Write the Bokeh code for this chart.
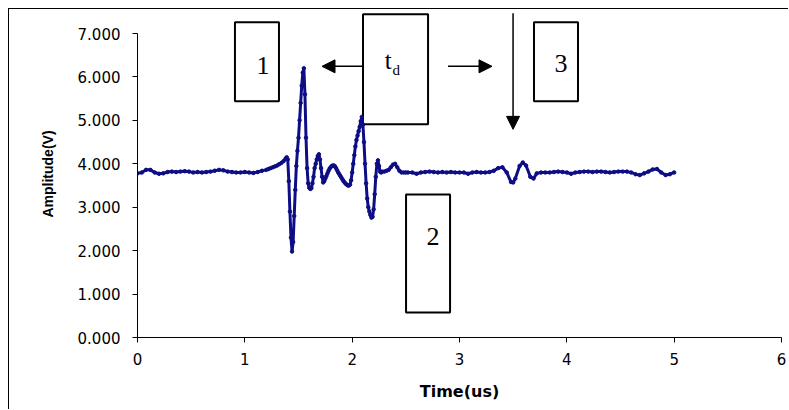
from bokeh.plotting import figure
from bokeh.models import Range1d, FixedTicker, NumeralTickFormatter, Arrow, NormalHead, ColumnDataSource
from bokeh.core.properties import value
from bokeh.embed import file_html
from bokeh.resources import INLINE

# ---- data ----
time_us = [
    0.00, 0.04, 0.08, 0.12, 0.16, 0.20, 0.24, 0.28, 0.32, 0.36, 0.40, 0.44, 0.48, 0.52, 0.56, 0.60,
    0.64, 0.68, 0.72, 0.76, 0.80, 0.84, 0.88, 0.92, 0.96, 1.00, 1.04, 1.08, 1.12, 1.16, 1.20,
    1.22, 1.24, 1.26, 1.28, 1.30, 1.32, 1.34, 1.36, 1.38, 1.39, 1.40, 1.41, 1.42, 1.43, 1.44, 1.45,
    1.46, 1.47, 1.48, 1.49, 1.50, 1.51, 1.52, 1.53, 1.54, 1.55, 1.56, 1.57, 1.58, 1.59, 1.60, 1.61,
    1.62, 1.63, 1.64, 1.65, 1.66, 1.67, 1.68, 1.69, 1.70, 1.71, 1.72, 1.73, 1.74, 1.75, 1.76, 1.77,
    1.78, 1.79, 1.80, 1.81, 1.82, 1.83, 1.84, 1.85, 1.86, 1.87, 1.88, 1.89, 1.90, 1.91, 1.92, 1.93,
    1.94, 1.95, 1.96, 1.97, 1.98, 1.99, 2.00, 2.01, 2.02, 2.03, 2.04, 2.05, 2.06, 2.07, 2.08, 2.09,
    2.10, 2.11, 2.12, 2.13, 2.14, 2.15, 2.16, 2.17, 2.18, 2.19, 2.20, 2.21, 2.22, 2.23, 2.24, 2.25,
    2.26, 2.27, 2.28, 2.30, 2.32, 2.34, 2.36, 2.38, 2.40, 2.42, 2.44, 2.46, 2.48, 2.50,
    2.52, 2.56, 2.60, 2.64, 2.68, 2.72, 2.76, 2.80, 2.84, 2.88, 2.92, 2.96, 3.00, 3.04, 3.08, 3.12,
    3.16, 3.20, 3.24, 3.28, 3.32, 3.36, 3.40, 3.44, 3.48, 3.50, 3.52, 3.56, 3.59, 3.62, 3.66, 3.69,
    3.72, 3.76, 3.80, 3.84, 3.88, 3.92, 3.96, 4.00, 4.04, 4.08, 4.12, 4.16, 4.20, 4.24, 4.28, 4.32,
    4.36, 4.40, 4.44, 4.48, 4.52, 4.56, 4.60, 4.64, 4.68, 4.72, 4.76, 4.80, 4.84, 4.88, 4.92, 4.96,
    5.00,
]
amplitude_v = [
    3.78, 3.80, 3.86, 3.86, 3.80, 3.77, 3.78, 3.81, 3.82, 3.81, 3.82, 3.83, 3.82, 3.80, 3.81, 3.80,
    3.81, 3.82, 3.84, 3.86, 3.85, 3.82, 3.81, 3.80, 3.80, 3.81, 3.80, 3.79, 3.81, 3.84, 3.86,
    3.88, 3.90, 3.92, 3.94, 3.96, 3.99, 4.02, 4.06, 4.12, 4.15, 4.10, 3.60, 2.90, 2.30, 1.98, 2.20,
    2.80, 3.40, 3.95, 4.30, 4.60, 5.00, 5.40, 5.80, 6.10, 6.20, 5.60, 4.60, 3.90, 3.55, 3.45, 3.42,
    3.44, 3.55, 3.70, 3.90, 4.00, 4.10, 4.18, 4.22, 4.10, 3.90, 3.70, 3.57, 3.60, 3.66, 3.72, 3.78,
    3.84, 3.89, 3.92, 3.95, 3.96, 3.96, 3.94, 3.90, 3.85, 3.80, 3.76, 3.72, 3.68, 3.64, 3.60, 3.57,
    3.54, 3.52, 3.50, 3.50, 3.52, 3.62, 3.80, 4.00, 4.20, 4.40, 4.55, 4.65, 4.75, 4.85, 4.98, 5.08,
    4.90, 4.50, 4.00, 3.55, 3.20, 3.00, 2.90, 2.82, 2.76, 2.78, 2.95, 3.30, 3.70, 4.00, 4.08, 3.95,
    3.82, 3.80, 3.82, 3.82, 3.84, 3.86, 3.92, 3.98, 4.00, 3.92, 3.84, 3.80, 3.80, 3.80,
    3.80, 3.80, 3.77, 3.80, 3.81, 3.82, 3.81, 3.80, 3.81, 3.80, 3.81, 3.80, 3.80, 3.80, 3.77, 3.80,
    3.81, 3.80, 3.80, 3.81, 3.84, 3.90, 3.92, 3.80, 3.58, 3.57, 3.66, 3.95, 4.03, 3.96, 3.70, 3.66,
    3.78, 3.80, 3.80, 3.80, 3.81, 3.82, 3.81, 3.80, 3.77, 3.80, 3.81, 3.82, 3.82, 3.81, 3.82, 3.82,
    3.81, 3.80, 3.81, 3.82, 3.82, 3.82, 3.80, 3.76, 3.74, 3.78, 3.82, 3.87, 3.88, 3.80, 3.74, 3.76,
    3.80,
]
x_ticks = [0, 1, 2, 3, 4, 5, 6]
y_ticks = [0, 1, 2, 3, 4, 5, 6, 7]
x_title = "Time(us)"
y_title = "Amplitude(V)"
box_labels = ["1", "2", "3"]

NAVY = "#0d0d85"

p = figure(width=780, height=401, output_backend="svg", toolbar_location=None,
           x_range=Range1d(0, 6), y_range=Range1d(0, 7.53),
           min_border_left=128, min_border_right=8, min_border_top=1, min_border_bottom=73,
           margin=(8, 0, 0, 8))
p.styles = {"border-top": "1px solid black", "border-left": "1px solid black"}
p.outline_line_color = None
p.grid.visible = False
p.background_fill_color = "white"
p.border_fill_color = "white"

# axes
p.xaxis.ticker = FixedTicker(ticks=x_ticks)
p.yaxis.ticker = FixedTicker(ticks=y_ticks)
p.yaxis.formatter = NumeralTickFormatter(format="0.000")
p.xaxis.bounds = (0, 6)
p.yaxis.bounds = (0, 7)
for ax in (p.xaxis[0], p.yaxis[0]):
    ax.major_tick_in = 0
    ax.major_tick_out = 5
    ax.minor_tick_line_color = None
    ax.axis_line_color = "black"
    ax.major_tick_line_color = "black"
    ax.major_label_text_font = "DejaVu Sans"
    ax.major_label_text_font_size = "15px"
    ax.major_label_text_color = "black"
    ax.axis_label_text_font_style = "bold"
    ax.axis_label_text_color = "black"
p.xaxis.major_label_standoff = 10
p.yaxis.major_label_standoff = 12
p.xaxis.axis_label = x_title
p.yaxis.axis_label = y_title
p.xaxis.axis_label_text_font = "DejaVu Sans"
p.xaxis.axis_label_text_font_size = "16px"
p.xaxis.axis_label_standoff = 14
p.yaxis[0].axis_label_text_font = "Liberation Sans"
p.yaxis[0].axis_label_text_font_size = "14px"
p.yaxis[0].axis_label_standoff = 19

# annotation boxes (data coordinates)
box_left = [0.908, 2.502, 3.694, 2.101]
box_right = [1.318, 2.912, 4.104, 2.707]
box_top = [7.258, 3.295, 7.258, 7.442]
box_bottom = [5.438, 0.576, 5.438, 4.908]
p.quad(left=box_left, right=box_right, top=box_top, bottom=box_bottom,
       fill_color=None, line_color="black", line_width=2)

p.text(x=[1.169, 2.753, 3.946], y=[6.267, 2.327, 6.313], text=box_labels,
       text_font=value("Liberation Serif"), text_font_size="26px",
       text_align="center", text_baseline="middle", text_color="black")
p.text(x=[2.335], y=[6.38], text=["t"], text_font=value("Liberation Serif"),
       text_font_size="25px", text_align="center", text_baseline="middle", text_color="black")
p.text(x=[2.41], y=[6.17], text=["d"], text_font=value("Liberation Serif"),
       text_font_size="15px", text_align="center", text_baseline="middle", text_color="black")

head = dict(size=13, fill_color="black", line_color="black")
p.add_layout(Arrow(end=NormalHead(**head), x_start=2.101, y_start=6.244, x_end=1.719, y_end=6.244,
                   line_width=1.5, line_color="black"))
p.add_layout(Arrow(end=NormalHead(**head), x_start=2.893, y_start=6.244, x_end=3.303, y_end=6.244,
                   line_width=1.5, line_color="black"))
p.add_layout(Arrow(end=NormalHead(**head), x_start=3.499, y_start=7.465, x_end=3.499, y_end=4.793,
                   line_width=1.5, line_color="black"))

# waveform
src = ColumnDataSource(dict(t=time_us, a=amplitude_v))
p.line("t", "a", source=src, line_color=NAVY, line_width=3)
p.scatter("t", "a", source=src, marker="circle", size=3.5, fill_color=NAVY, line_color=NAVY)

open("out.html", "w").write(file_html(p, INLINE))
